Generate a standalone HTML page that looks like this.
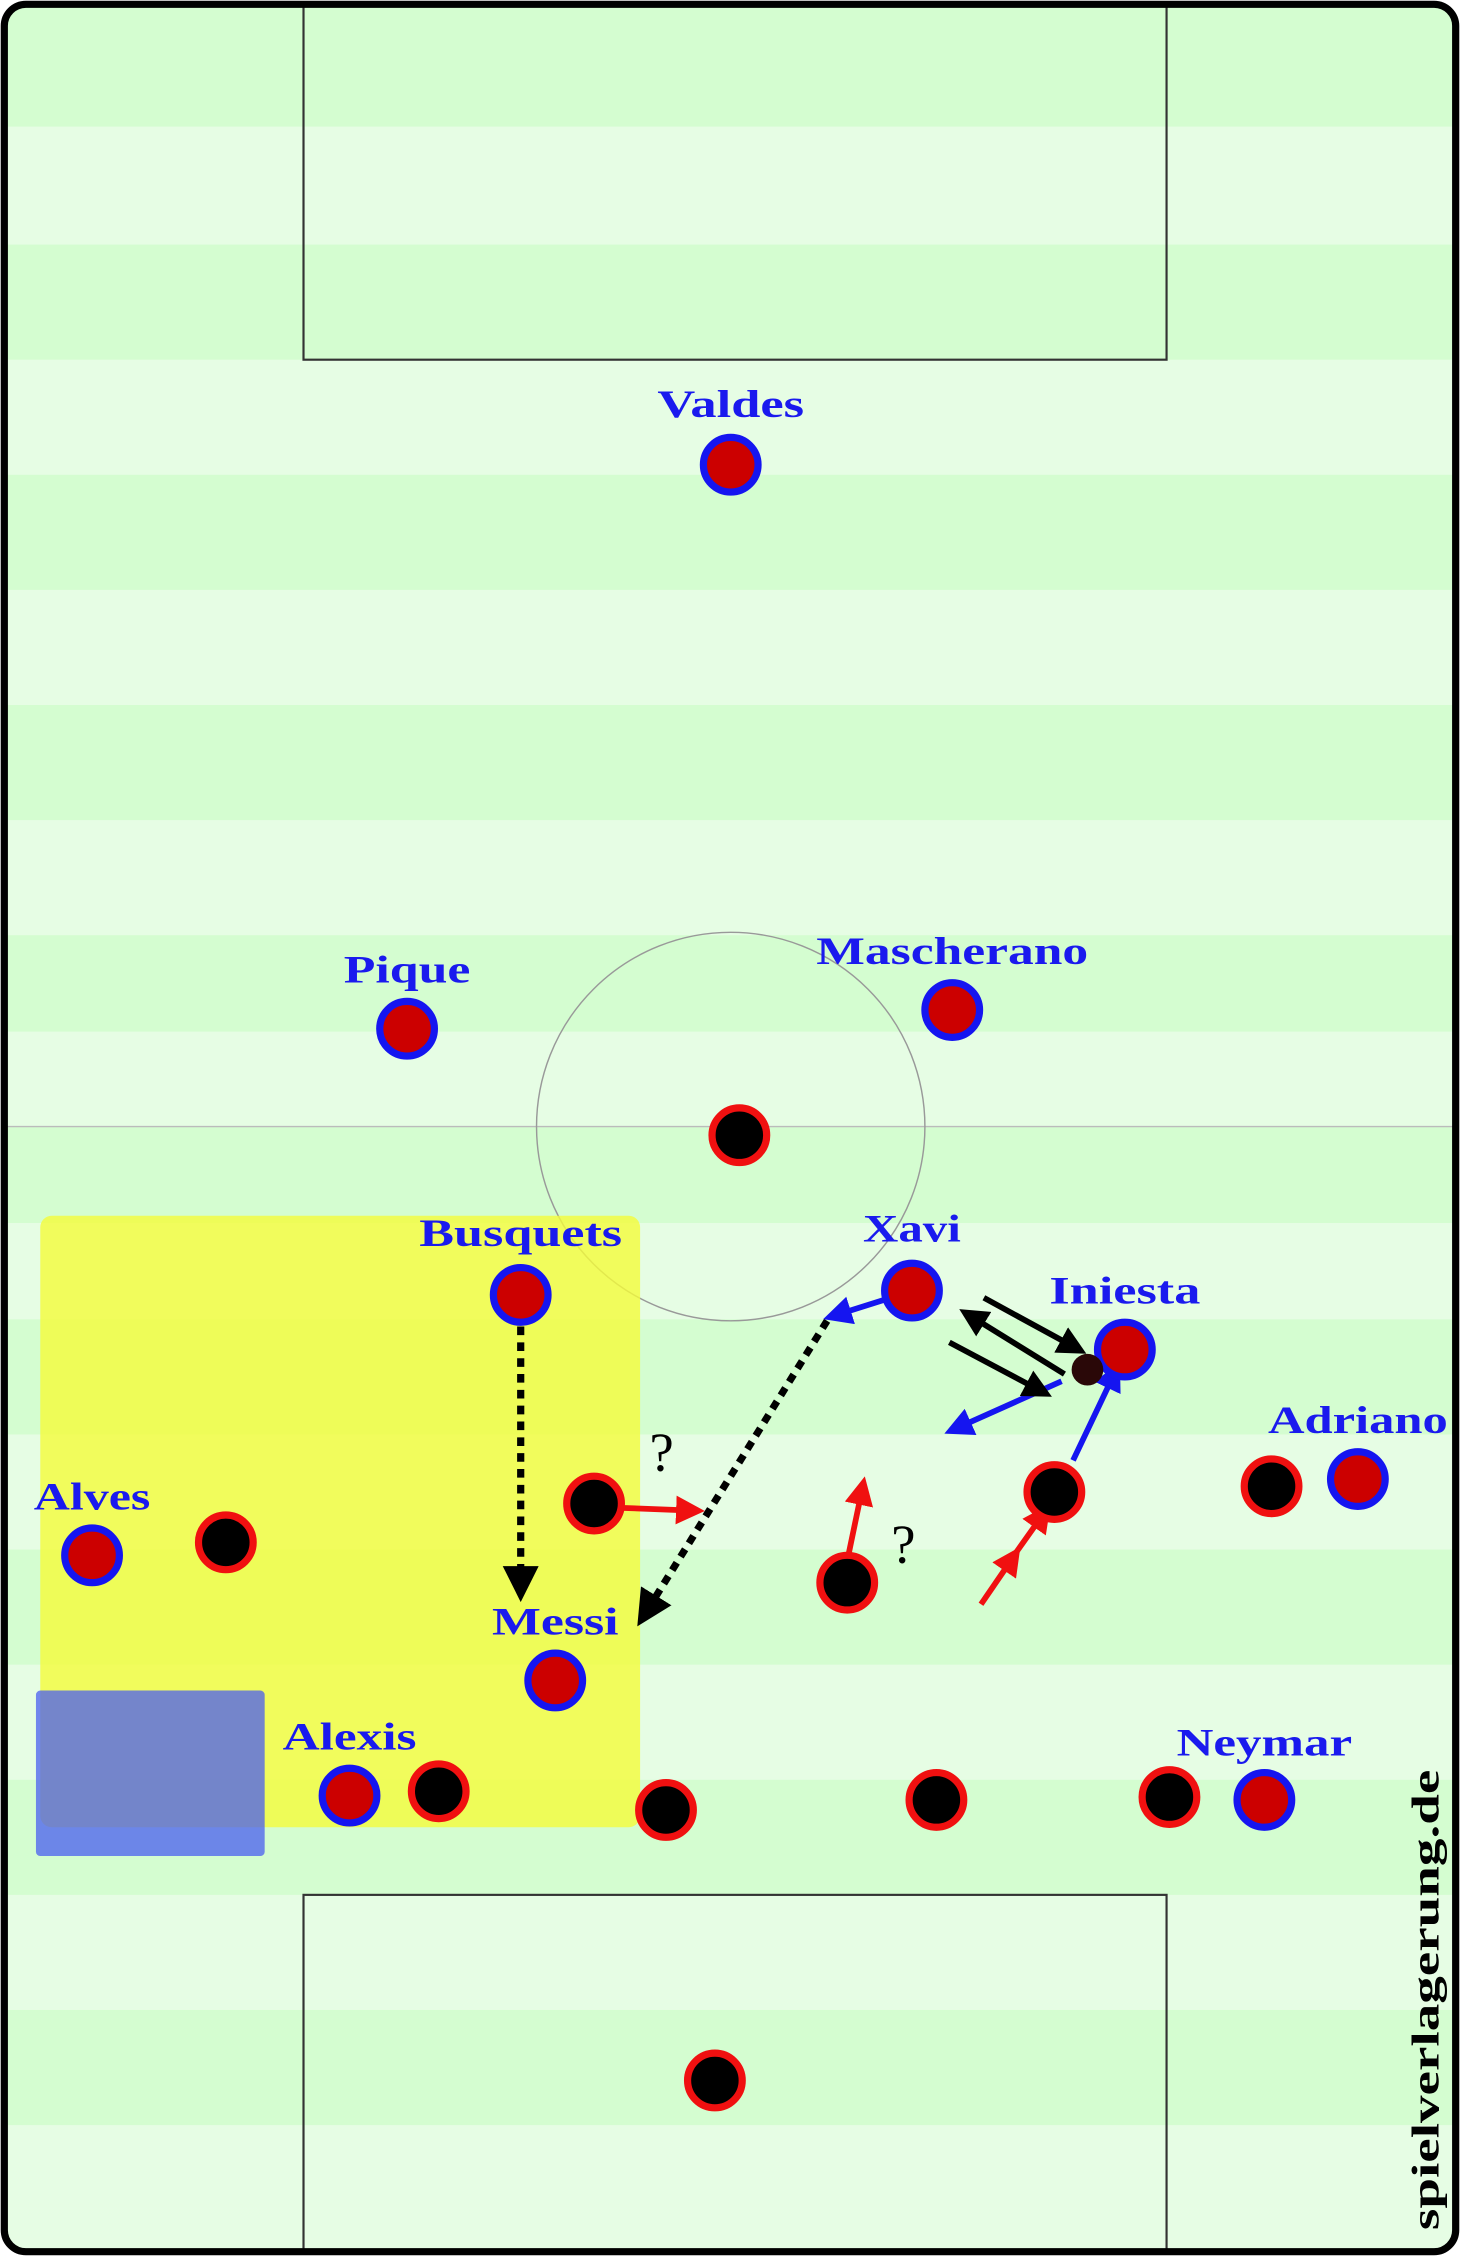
<!DOCTYPE html>
<html><head><meta charset="utf-8"><style>html,body{margin:0;padding:0;background:#fff}svg{display:block}</style></head><body>
<svg width="1460" height="2256" viewBox="0 0 1015 1568" preserveAspectRatio="none" xmlns="http://www.w3.org/2000/svg">
<defs>
<marker id="hk" viewBox="0 0 10 10" refX="7" refY="5" markerWidth="5" markerHeight="5" orient="auto"><path d="M0,0L10,5L0,10z" fill="#000"/></marker>
<marker id="hr" viewBox="0 0 10 10" refX="7" refY="5" markerWidth="5" markerHeight="5" orient="auto"><path d="M0,0L10,5L0,10z" fill="#f01010"/></marker>
<marker id="hb" viewBox="0 0 10 10" refX="7" refY="5" markerWidth="5" markerHeight="5" orient="auto"><path d="M0,0L10,5L0,10z" fill="#1515f0"/></marker>
<clipPath id="c"><rect x="3" y="3" width="1009" height="1562" rx="15"/></clipPath>
</defs>
<rect width="1015" height="1568" fill="#fff"/>
<g clip-path="url(#c)">
<rect x="0" y="0" width="1015" height="1568" fill="#e6fde4"/>
<g fill="#d4fdd0">
<rect x="0" y="0" width="1015" height="88"/>
<rect x="0" y="170" width="1015" height="80"/>
<rect x="0" y="330" width="1015" height="80"/>
<rect x="0" y="490" width="1015" height="80"/>
<rect x="0" y="650" width="1015" height="67"/>
<rect x="0" y="783" width="1015" height="67"/>
<rect x="0" y="917" width="1015" height="80"/>
<rect x="0" y="1077" width="1015" height="80"/>
<rect x="0" y="1237" width="1015" height="80"/>
<rect x="0" y="1397" width="1015" height="80"/>
</g>
<rect x="211" y="0" width="600" height="250" fill="none" stroke="#333" stroke-width="1.5"/>
<rect x="211" y="1317" width="600" height="260" fill="none" stroke="#333" stroke-width="1.5"/>
<line x1="0" y1="783" x2="1015" y2="783" stroke="#bbb" stroke-width="1"/>
<circle cx="508" cy="783" r="135" fill="none" stroke="#999" stroke-width="1"/>
<rect x="28" y="845" width="417" height="425" rx="8" fill="#f4fb3a" fill-opacity="0.8"/>
<rect x="25" y="1175" width="159" height="115" rx="3" fill="#4a5ef0" fill-opacity="0.75"/>
</g>
<rect x="3" y="3" width="1009" height="1562" rx="15" fill="none" stroke="#000" stroke-width="5"/>

<g stroke="#000" stroke-width="5" stroke-dasharray="6,5" fill="none">
<line x1="362" y1="922" x2="362" y2="1106" marker-end="url(#hk)"/>
<line x1="575" y1="918" x2="447" y2="1124" marker-end="url(#hk)"/>
</g>
<g stroke="#f01010" stroke-width="4" fill="none">
<line x1="432" y1="1048" x2="484" y2="1050" marker-end="url(#hr)"/>
<line x1="590" y1="1080" x2="600" y2="1032" marker-end="url(#hr)"/>
<line x1="682" y1="1115" x2="706" y2="1080" marker-end="url(#hr)"/>
<line x1="700" y1="1088" x2="727" y2="1050" marker-end="url(#hr)"/>
</g>
<g stroke="#1515f0" stroke-width="4" fill="none">
<line x1="616" y1="903" x2="578" y2="915" marker-end="url(#hb)"/>
<line x1="738" y1="960" x2="662" y2="994" marker-end="url(#hb)"/>
<line x1="746" y1="1015" x2="776" y2="952" marker-end="url(#hb)"/>
</g>
<g stroke="#000" stroke-width="4" fill="none">
<line x1="684" y1="902" x2="750" y2="938" marker-end="url(#hk)"/>
<line x1="740" y1="955" x2="672" y2="913" marker-end="url(#hk)"/>
<line x1="660" y1="933" x2="726" y2="968" marker-end="url(#hk)"/>
</g>

<g stroke="#1515f0" stroke-width="5" fill="#cc0000">
<circle cx="508" cy="323" r="19"/><circle cx="283" cy="715" r="19"/><circle cx="662" cy="702" r="19"/>
<circle cx="362" cy="900" r="19"/><circle cx="634" cy="897" r="19"/><circle cx="782" cy="938" r="19"/>
<circle cx="944" cy="1028" r="19"/><circle cx="64" cy="1081" r="19"/><circle cx="386" cy="1168" r="19"/>
<circle cx="243" cy="1248" r="19"/><circle cx="879" cy="1251" r="19"/>
</g>
<g stroke="#f01010" stroke-width="5" fill="#000">
<circle cx="514" cy="789" r="19"/><circle cx="157" cy="1072" r="19"/><circle cx="413" cy="1045" r="19"/>
<circle cx="589" cy="1100" r="19"/><circle cx="733" cy="1037" r="19"/><circle cx="884" cy="1033" r="19"/>
<circle cx="305" cy="1245" r="19"/><circle cx="463" cy="1258" r="19"/><circle cx="651" cy="1251" r="19"/>
<circle cx="813" cy="1249" r="19"/><circle cx="497" cy="1446" r="19"/>
</g>
<circle cx="756" cy="952" r="11" fill="#2a0808"/>

<g font-family="Liberation Serif, serif" font-weight="bold" font-size="27" fill="#1a1aee" text-anchor="middle" lengthAdjust="spacingAndGlyphs">
<text x="508" y="290" textLength="102" lengthAdjust="spacingAndGlyphs">Valdes</text>
<text x="283" y="683" textLength="88" lengthAdjust="spacingAndGlyphs">Pique</text>
<text x="662" y="670" textLength="189" lengthAdjust="spacingAndGlyphs">Mascherano</text>
<text x="362" y="866" textLength="141" lengthAdjust="spacingAndGlyphs">Busquets</text>
<text x="634" y="863" textLength="68" lengthAdjust="spacingAndGlyphs">Xavi</text>
<text x="782" y="906" textLength="105" lengthAdjust="spacingAndGlyphs">Iniesta</text>
<text x="944" y="996" textLength="125" lengthAdjust="spacingAndGlyphs">Adriano</text>
<text x="64" y="1049" textLength="81" lengthAdjust="spacingAndGlyphs">Alves</text>
<text x="386" y="1136" textLength="88" lengthAdjust="spacingAndGlyphs">Messi</text>
<text x="243" y="1216" textLength="93" lengthAdjust="spacingAndGlyphs">Alexis</text>
<text x="879" y="1220" textLength="122" lengthAdjust="spacingAndGlyphs">Neymar</text>
</g>
<g font-family="Liberation Serif, serif" font-size="38" fill="#000" text-anchor="middle">
<text x="460" y="1022">?</text><text x="628" y="1086">?</text>
</g>
<text transform="translate(1000,1390) rotate(-90)" font-family="Liberation Serif, serif" font-weight="bold" font-size="27" fill="#000" text-anchor="middle" textLength="320" lengthAdjust="spacingAndGlyphs">spielverlagerung.de</text>
</svg>
</body></html>
